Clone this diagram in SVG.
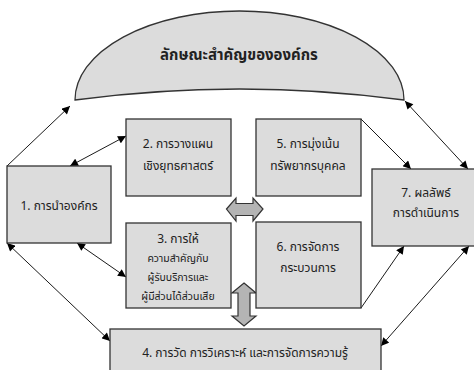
<svg xmlns="http://www.w3.org/2000/svg" width="474" height="370" viewBox="0 0 474 370">
<defs>
<marker id="ah" viewBox="0 0 10 10" refX="10" refY="5" markerWidth="9" markerHeight="8" markerUnits="userSpaceOnUse" orient="auto-start-reverse">
<path d="M0,0 L10,5 L0,10 Z" fill="#000"/>
</marker>
<style>
.box{fill:#dcdcdc;stroke:#333;stroke-width:1.3}
.big{fill:#b4b4b4;stroke:#333;stroke-width:1.2}
.t{font-family:"Noto Sans Thai","Noto Sans","Liberation Sans",sans-serif;font-size:12px;fill:#222;text-anchor:middle}
.sm{font-size:10.5px}
.title{font-size:15px;font-weight:bold}
.c{stroke:#000;stroke-width:0.9;fill:none}
.s{marker-end:url(#ah)}
.d{marker-start:url(#ah);marker-end:url(#ah)}
</style>
</defs>
<rect width="474" height="370" fill="#fff"/>
<g id="dome">
<path class="box" d="M75,100 A164.5,89 0 0 1 404,100 Q239.5,78 75,100 Z"/>
<text class="t title" x="239" y="60">ลักษณะสำคัญขององค์กร</text>
</g>
<g id="connectors">
<line class="c s" x1="7" y1="166" x2="70" y2="106"/>
<line class="c d" x1="126" y1="136" x2="70" y2="166"/>
<line class="c s" x1="361" y1="119" x2="411" y2="169"/>
<line class="c d" x1="405" y1="101" x2="468" y2="169"/>
<line class="c d" x1="7" y1="243" x2="110" y2="341"/>
<line class="c d" x1="77" y1="243" x2="126" y2="277"/>
<line class="c s" x1="361" y1="308" x2="404" y2="246"/>
<line class="c d" x1="381" y1="346" x2="469" y2="246"/>
<polygon class="big" points="226.5,209 236,198 236,203.5 253,203.5 253,198 263,209 253,221 253,215.5 236,215.5 236,221"/>
<polygon class="big" points="244,283 256,293 250,293 250,316 256,316 244,326 232,316 238,316 238,293 232,293"/>
</g>
<g id="n1">
<rect class="box" x="7" y="166" width="104" height="77"/>
<text class="t" x="59" y="210">1. การนำองค์กร</text>
</g>
<g id="n2">
<rect class="box" x="126" y="119" width="105" height="77"/>
<text class="t" x="178" y="148">2. การวางแผน</text>
<text class="t" x="178" y="170">เชิงยุทธศาสตร์</text>
</g>
<g id="n3">
<rect class="box" x="126" y="223" width="105" height="85"/>
<text class="t" x="178" y="243">3. การให้</text>
<text class="t sm" x="178" y="262">ความสำคัญกับ</text>
<text class="t sm" x="178" y="281">ผู้รับบริการและ</text>
<text class="t sm" x="178" y="300">ผู้มีส่วนได้ส่วนเสีย</text>
</g>
<g id="n5">
<rect class="box" x="256" y="119" width="105" height="77"/>
<text class="t" x="308" y="148">5. การมุ่งเน้น</text>
<text class="t" x="308" y="170">ทรัพยากรบุคคล</text>
</g>
<g id="n6">
<rect class="box" x="256" y="222" width="105" height="86"/>
<text class="t" x="308" y="251">6. การจัดการ</text>
<text class="t" x="308" y="272">กระบวนการ</text>
</g>
<g id="n7">
<rect class="box" x="372" y="169" width="110" height="77"/>
<text class="t" x="426" y="197">7. ผลลัพธ์</text>
<text class="t" x="426" y="217">การดำเนินการ</text>
</g>
<g id="n4">
<rect class="box" x="110" y="329" width="271" height="50"/>
<text class="t" x="245" y="357">4. การวัด การวิเคราะห์ และการจัดการความรู้</text>
</g>
</svg>
